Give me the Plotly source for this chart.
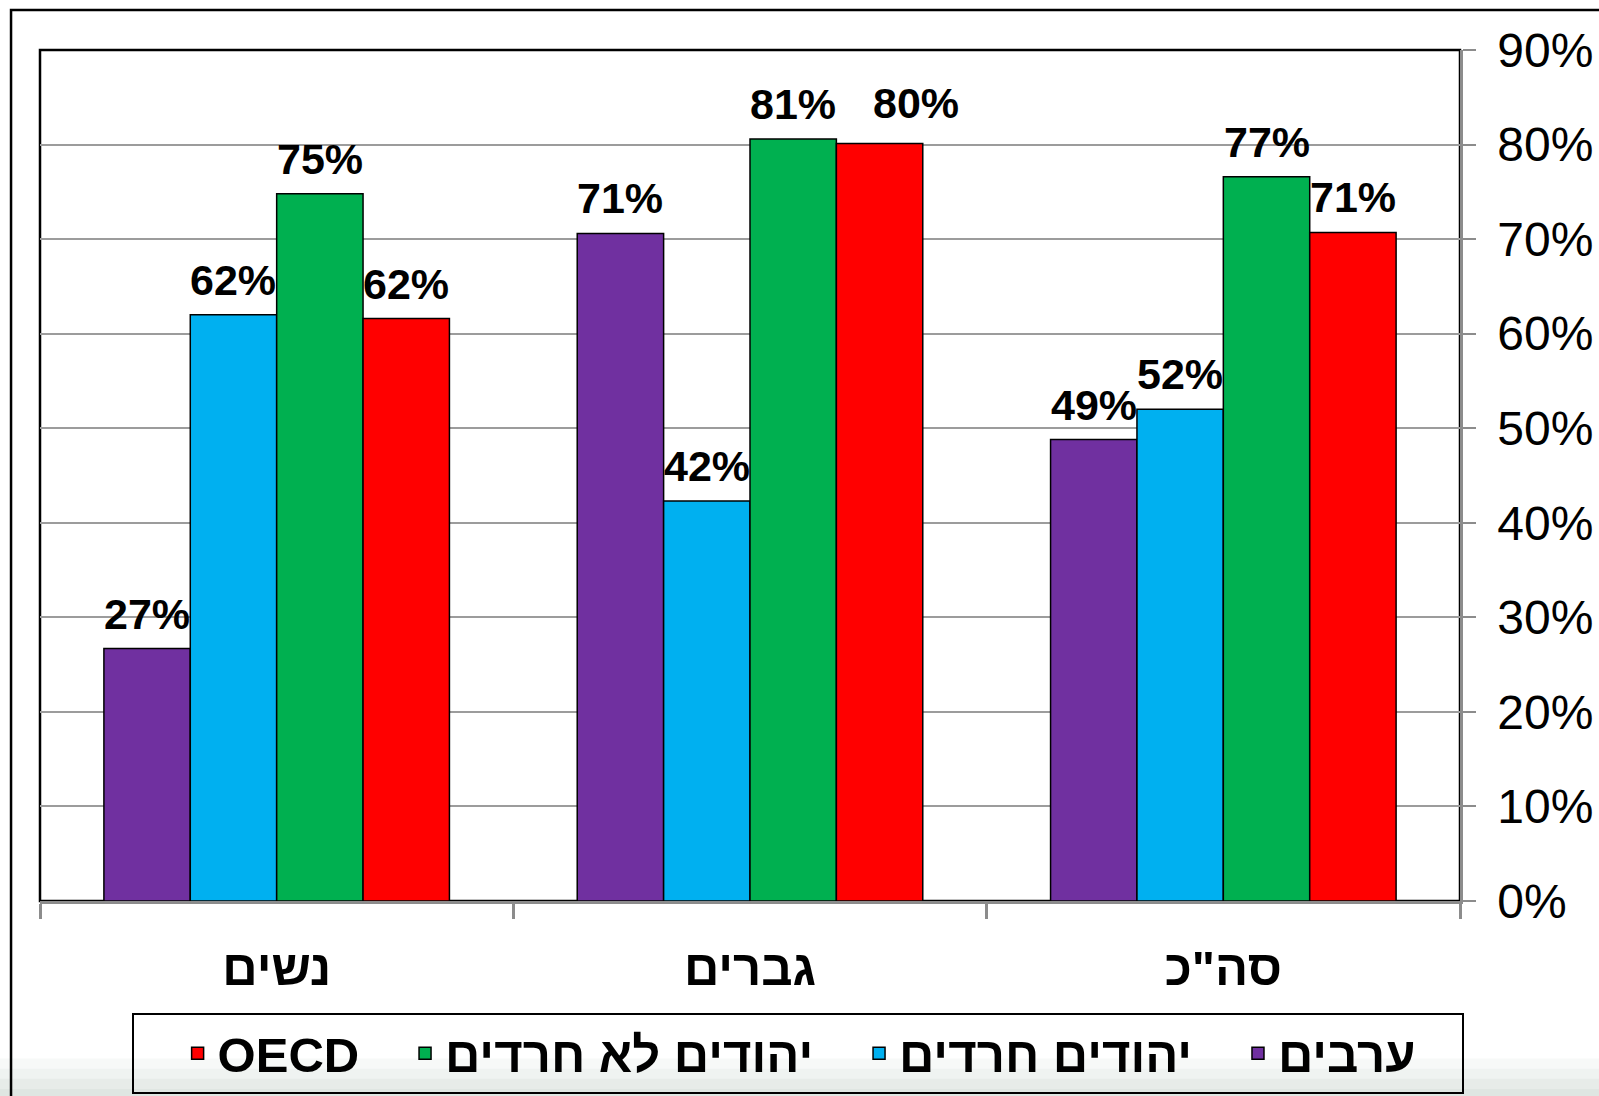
import plotly.graph_objects as go

categories = ["נשים", "גברים", "סה\"כ"]
series_names = ["ערבים", "יהודים חרדים", "יהודים לא חרדים", "OECD"]
series_colors = ["#7030A0", "#00B0F0", "#00B050", "#FF0000"]
arabs = [26.7, 70.6, 48.8]
haredim = [62.0, 42.3, 52.0]
non_haredim = [74.8, 80.6, 76.6]
oecd = [61.6, 80.1, 70.7]
series_values = [arabs, haredim, non_haredim, oecd]
tick_values = [0, 10, 20, 30, 40, 50, 60, 70, 80, 90]
tick_labels = [f"{v}%" for v in tick_values]

FONT = "Liberation Sans, Arial, sans-serif"
PAD = "\u00a0\u00a0\u00a0"  # spacing after each legend entry

W, H = 1599, 1096
ML, MR, MT, MB = 40, 139, 50, 195
BARGAP = 0.27
plot_w = W - ML - MR
cat_px = plot_w / len(categories)
bar_px = cat_px * (1 - BARGAP) / len(series_names)

fig = go.Figure()
annotations = []
for si, (name, color, vals) in enumerate(zip(series_names, series_colors, series_values)):
    fig.add_trace(go.Bar(
        x=categories, y=vals, name=name + PAD,
        marker=dict(color=color, line=dict(color="black", width=1.5)),
    ))
    for ci, (cat, v) in enumerate(zip(categories, vals)):
        xs = (si - (len(series_names) - 1) / 2) * bar_px
        ys = 9
        # the label that would collide with its neighbour is nudged aside
        if si == 3 and ci == 1:
            xs += 36
            ys += 6
        annotations.append(dict(
            x=cat, y=v, xref="x", yref="y", text=f"{round(v):d}%",
            showarrow=False, xanchor="center", yanchor="bottom",
            xshift=xs, yshift=ys,
            font=dict(family=FONT, size=43, color="black", weight="bold"),
        ))

# faint gradient band at the bottom of the page
band_shades = ["#f7f9f8", "#eff3f1", "#e7ece9", "#dfe6e2"]
band_shapes = []
for i, c in enumerate(band_shades):
    y1 = -0.185 - i * 0.012
    band_shapes.append(dict(type="rect", xref="paper", yref="paper",
                            x0=-0.2, x1=1.2, y0=-0.3, y1=y1,
                            fillcolor=c, line=dict(width=0), layer="below"))

fig.update_layout(
    width=W, height=H,
    margin=dict(l=ML, r=MR, t=MT, b=MB, autoexpand=False),
    paper_bgcolor="white", plot_bgcolor="rgba(0,0,0,0)",
    barmode="group", bargap=BARGAP, bargroupgap=0,
    showlegend=True,
    annotations=annotations,
    legend=dict(
        orientation="h", traceorder="reversed",
        x=0.534, xanchor="center", y=-0.1316, yanchor="top",
        bordercolor="black", borderwidth=2, bgcolor="rgba(0,0,0,0)",
        font=dict(family=FONT, size=49, color="black", weight="bold"),
        title=dict(text=PAD, side="left", font=dict(size=40)),
        itemwidth=30,
    ),
    xaxis=dict(
        type="category", tickson="boundaries", ticks="outside", ticklen=15,
        tickcolor="#8c8c8c", tickwidth=2.5,
        showline=True, linecolor="#8c8c8c", linewidth=3,
        tickfont=dict(family=FONT, size=49, color="black", weight="bold"),
        ticklabelstandoff=22,
        showgrid=False, automargin=False,
    ),
    yaxis=dict(
        side="right", range=[0, 90], tickvals=tick_values, ticktext=tick_labels,
        ticks="outside", ticklen=13, tickcolor="#8c8c8c", tickwidth=2,
        showline=True, linecolor="#8c8c8c", linewidth=2.5,
        gridcolor="#9c9c9c", gridwidth=2,
        tickfont=dict(family=FONT, size=48, color="black"),
        ticklabelstandoff=12,
        zeroline=False, automargin=False,
    ),
    shapes=band_shapes + [
        dict(type="rect", xref="paper", yref="paper", x0=0, x1=1, y0=0, y1=1,
             fillcolor="white", line=dict(color="black", width=2.5), layer="below"),
        dict(type="rect", xref="paper", yref="paper", x0=-0.0204, x1=1.2, y0=-0.3, y1=1.047,
             line=dict(color="black", width=2.5), layer="below"),
    ],
)

fig.write_html(
    "out.html",
    config={"displayModeBar": False},
    post_script="document.body.style.margin='0';document.body.style.overflow='hidden';",
)
